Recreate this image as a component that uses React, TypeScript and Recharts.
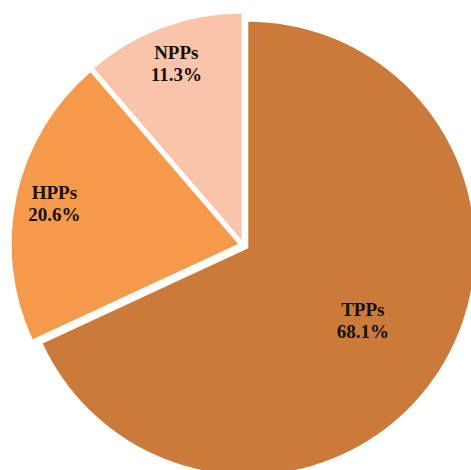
import React from 'react';
import { PieChart, Pie, Cell } from 'recharts';

// slice order follows the reference: clockwise from 12 o'clock
const categories = ['TPPs', 'HPPs', 'NPPs'];
const shares = [68.1, 20.6, 11.3];
const colors = ['#CB7A39', '#F59A4B', '#F9C4A9'];

const data = categories.map((name, i) => ({ name, value: shares[i] }));

const BASE_X = 243.6;
const BASE_Y = 245.3;
const RADIUS = 226.5;
const EXPLODE = 5.6;
const RAD = Math.PI / 180;

const total = shares.reduce((a, b) => a + b, 0);
let acc = 0;
const midAngles = shares.map((v) => {
  const start = 90 - (acc / total) * 360;
  acc += v;
  const end = 90 - (acc / total) * 360;
  return (start + end) / 2;
});

const makeLabel = (k: number) => (props: any) => {
  if (props.index !== k) return null;
  const factor = props.percent > 0.5 ? 0.6 : 0.83;
  const r = props.outerRadius * factor;
  const x = props.cx + r * Math.cos(-props.midAngle * RAD);
  const y = props.cy + r * Math.sin(-props.midAngle * RAD);
  return (
    <text
      x={x}
      y={y}
      textAnchor="middle"
      fontFamily="'Liberation Serif', 'Times New Roman', serif"
      fontWeight="bold"
      fontSize={19}
      fill="#111"
    >
      <tspan x={x} dy={-5}>{categories[k]}</tspan>
      <tspan x={x} dy={22}>{shares[k].toFixed(1)}%</tspan>
    </text>
  );
};

const App: React.FC = () => {
  return (
    <div style={{ position: 'absolute', left: 0, top: 0, width: 471, height: 470, background: '#fff' }}>
      <PieChart width={471} height={470} margin={{ top: 0, right: 0, bottom: 0, left: 0 }}>
        {categories.map((name, k) => (
          <Pie
            key={name}
            data={data}
            dataKey="value"
            nameKey="name"
            cx={BASE_X + EXPLODE * Math.cos(-midAngles[k] * RAD)}
            cy={BASE_Y + EXPLODE * Math.sin(-midAngles[k] * RAD)}
            outerRadius={RADIUS}
            startAngle={90}
            endAngle={-270}
            stroke="none"
            labelLine={false}
            label={makeLabel(k)}
            isAnimationActive={false}
          >
            {data.map((d, i) => (
              <Cell key={d.name} fill={i === k ? colors[i] : 'none'} />
            ))}
          </Pie>
        ))}
      </PieChart>
    </div>
  );
};

export default App;
